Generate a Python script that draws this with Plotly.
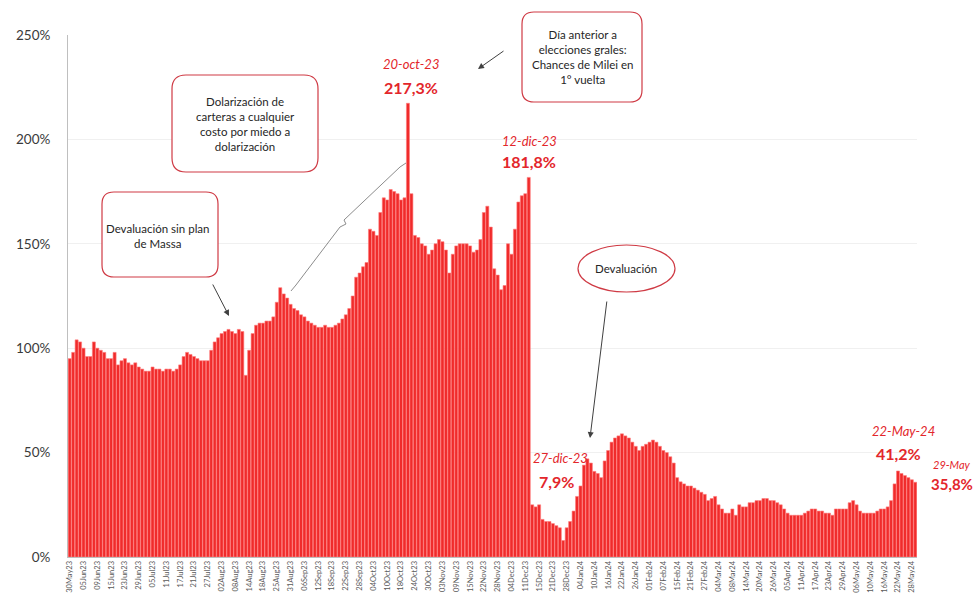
import pandas as pd
import plotly.graph_objects as go

# ---------------- DATA ----------------
feriados = ["2023-06-19", "2023-06-20", "2023-08-21", "2023-10-13", "2023-10-16",
            "2023-11-20", "2023-12-08", "2023-12-25", "2024-01-01", "2024-02-12",
            "2024-02-13", "2024-03-28", "2024-03-29", "2024-04-01", "2024-04-02",
            "2024-05-01"]
fechas = pd.bdate_range("2023-05-30", "2024-05-29", freq="C", holidays=feriados)

may23 = [95, 98]
jun23 = [104, 103, 100, 96, 96, 103, 100, 99, 98, 95, 95, 98, 92, 94, 95, 93, 92, 93, 91, 90]
jul23 = [89, 89, 91, 90, 90, 89, 90, 90, 89, 90, 92, 96, 98, 97, 96, 95, 94, 94, 94, 99, 103]
ago23 = [105, 107, 108, 109, 108, 107, 109, 108, 87, 99, 107, 111, 112, 112, 113, 113, 115, 122,
         129, 126, 124, 121]
sep23 = [119, 118, 116, 115, 113, 112, 111, 110, 110, 111, 110, 110, 111, 112, 114, 116, 119, 125,
         134, 136, 139]
oct23 = [141, 157, 156, 154, 165, 172, 171, 176, 175, 174, 171, 172,
         217.3, 174, 154, 153, 150, 149, 145, 147]
nov23 = [150, 152, 151, 147, 136, 145, 149, 150, 150, 150, 149, 146, 147, 152, 165, 168, 158, 138,
         135, 128, 130]
dic23 = [150, 145, 157, 170, 173, 174, 181.8, 25, 24, 25, 18, 17, 17, 16, 15, 14, 7.9, 14, 17]
ene24 = [22, 29, 34, 44, 47, 45, 41, 40, 38, 46, 51, 55, 57, 58, 59, 58, 57, 55, 53, 51, 53, 54]
feb24 = [55, 56, 55, 53, 51, 50, 48, 45, 38, 36, 35, 34, 34, 33, 32, 31, 30, 27, 28]
mar24 = [29, 25, 23, 21, 21, 23, 20, 25, 24, 24, 26, 26, 27, 27, 28, 28, 27, 27, 26]
abr24 = [25, 23, 21, 20, 20, 20, 20, 21, 22, 23, 23, 22, 22, 21, 21, 20, 23, 23, 23, 23]
may24 = [26, 27, 25, 22, 21, 21, 21, 21, 22, 23, 23, 24, 27, 35, 41.2, 40, 39, 38, 37, 35.8]

brecha = may23 + jun23 + jul23 + ago23 + sep23 + oct23 + nov23 + dic23 + ene24 + feb24 + mar24 + abr24 + may24
assert len(brecha) == len(fechas), (len(brecha), len(fechas))

categorias = [d.strftime("%d%b%y") for d in fechas]
ticks_x = categorias[::4]
ticks_y = [0, 50, 100, 150, 200, 250]
ticks_y_txt = ["0%", "50%", "100%", "150%", "200%", "250%"]

# ---------------- LAYOUT HELPERS ----------------
W, H = 976, 615
L, R, T, B = 68, 59, 35, 58
PW, PH = W - L - R, H - T - B


def px(x):
    return (x - L) / PW


def py(y):
    return (H - B - y) / PH


def rounded(x0, y0, x1, y1, r):
    pts = [("M", x0 + r, y0), ("L", x1 - r, y0), ("Q", x1, y0, x1, y0 + r), ("L", x1, y1 - r),
           ("Q", x1, y1, x1 - r, y1), ("L", x0 + r, y1), ("Q", x0, y1, x0, y1 - r),
           ("L", x0, y0 + r), ("Q", x0, y0, x0 + r, y0)]
    s = ""
    for p in pts:
        if p[0] == "Q":
            s += f"Q {px(p[1]):.5f},{py(p[2]):.5f} {px(p[3]):.5f},{py(p[4]):.5f} "
        else:
            s += f"{p[0]} {px(p[1]):.5f},{py(p[2]):.5f} "
    return s + "Z"


RED = "#e3262b"
FONT = "Lato, 'Open Sans', sans-serif"

fig = go.Figure(go.Bar(
    x=categorias, y=brecha,
    marker=dict(color="#f02b2b", line=dict(color="#ff7a7a", width=0.6)),
    hoverinfo="x+y",
))

shapes = []
box_line = dict(color="#cf3a44", width=1.2)
shapes.append(dict(type="path", xref="paper", yref="paper", path=rounded(522, 12, 642, 102, 12),
                   line=box_line, fillcolor="white"))
shapes.append(dict(type="path", xref="paper", yref="paper", path=rounded(172, 75, 318, 172, 14),
                   line=box_line, fillcolor="white"))
shapes.append(dict(type="path", xref="paper", yref="paper", path=rounded(102, 192, 218, 277, 12),
                   line=box_line, fillcolor="white"))
shapes.append(dict(type="circle", xref="paper", yref="paper", x0=px(578), x1=px(675),
                   y0=py(292), y1=py(245), line=box_line, fillcolor="white"))
# brace
brace = [(291, 291), (296, 285), (340, 227), (346, 224), (344, 220), (400, 167), (406, 163)]
path = "M " + " L ".join(f"{px(a):.5f},{py(b):.5f}" for a, b in brace)
shapes.append(dict(type="path", xref="paper", yref="paper", path=path,
                   line=dict(color="#8c8c8c", width=1)))

ann = []


def txt(x, y, text, size=12, color="#262626", bold=False, italic=False):
    t = text
    if bold:
        t = f"<b>{t}</b>"
    if italic:
        t = f"<i>{t}</i>"
    ann.append(dict(x=px(x), y=py(y), xref="paper", yref="paper", text=t, showarrow=False,
                    font=dict(size=size, color=color, family=FONT), xanchor="center", yanchor="middle"))


def arrow(x_tail, y_tail, x_head, y_head):
    ann.append(dict(x=px(x_head), y=py(y_head), xref="paper", yref="paper", text="",
                    showarrow=True, axref="pixel", ayref="pixel",
                    ax=x_tail - x_head, ay=y_tail - y_head,
                    arrowhead=2, arrowsize=1.2, arrowwidth=1, arrowcolor="#404040"))


txt(582, 57, "Día anterior a<br>elecciones grales:<br>Chances de Milei en<br>1° vuelta", 11.5)
txt(245, 124, "Dolarización de<br>carteras a cualquier<br>costo por miedo a<br>dolarización", 11.5)
txt(158, 236, "Devaluación sin plan<br>de Massa", 11.5)
txt(626, 268, "Devaluación", 11.5)

arrow(505, 50, 478, 69)
arrow(212, 283, 229, 316)
arrow(607, 300, 590, 438)

txt(411, 64, "20-oct-23", 13, RED, italic=True)
txt(411, 88, "217,3%", 16, RED, bold=True)
txt(529, 141, "12-dic-23", 13, RED, italic=True)
txt(529, 161, "181,8%", 16, RED, bold=True)
txt(560, 458, "27-dic-23", 13, RED, italic=True)
txt(556, 481, "7,9%", 16, RED, bold=True)
txt(903, 431, "22-May-24", 13, RED, italic=True)
txt(898, 453, "41,2%", 16, RED, bold=True)
txt(952, 464, "29-May", 11, RED, italic=True)
txt(952, 484, "35,8%", 15, RED, bold=True)

fig.update_layout(
    width=W, height=H, margin=dict(l=L, r=R, t=T, b=B),
    paper_bgcolor="white", plot_bgcolor="white",
    bargap=0.12, showlegend=False,
    shapes=shapes, annotations=ann,
    font=dict(family=FONT),
)
fig.update_yaxes(range=[0, 250], tickmode="array", tickvals=ticks_y, ticktext=ticks_y_txt,
                 tickfont=dict(size=13.5, color="#3a3a3a", family=FONT),
                 showgrid=True, gridcolor="#f0f0f0", zeroline=False,
                 showline=True, linecolor="#bfbfbf", ticks="", ticklabelstandoff=14)
fig.update_xaxes(type="category", range=[-0.5, len(categorias) - 0.5],
                 tickmode="array", tickvals=ticks_x, ticktext=ticks_x, tickangle=-90,
                 tickfont=dict(size=7.5, color="#595959", family=FONT),
                 showline=True, linecolor="#bfbfbf", ticks="", showgrid=False)

fig.write_html("out.html")
